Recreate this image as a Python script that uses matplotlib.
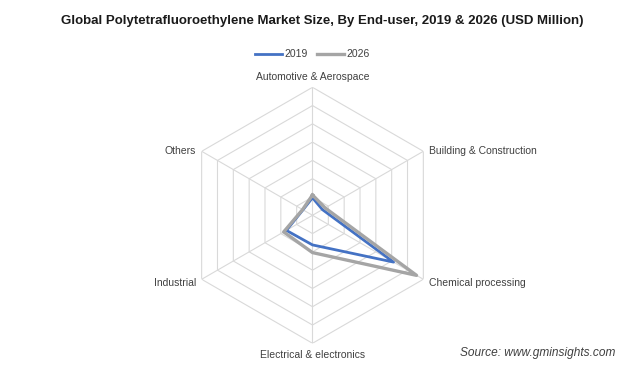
import numpy as np
import matplotlib
matplotlib.use("Agg")
import matplotlib.pyplot as plt

plt.rcParams['font.family'] = ['Liberation Sans', 'DejaVu Sans']

categories = ['Automotive & Aerospace', 'Building & Construction', 'Chemical processing',
              'Electrical & electronics', 'Industrial', 'Others']
values_2019 = [192, 125, 1024, 324, 330, 120]
values_2026 = [222, 160, 1314, 408, 364, 125]
ring_ticks = [200, 400, 600, 800, 1000, 1200, 1400]

blue = '#4472C4'
gray = '#A5A5A5'
grid_color = '#D9D9D9'

fig = plt.figure(figsize=(6.36, 3.82), dpi=100)
ax = fig.add_axes([0.4914 - 0.2013, 0.4364 - 0.3351, 0.4025, 0.6702], projection='polar')
ax.set_theta_offset(np.pi / 2)
ax.set_theta_direction(-1)

n = len(categories)
angles = np.arange(n) * 2 * np.pi / n
closed = np.append(angles, angles[0])

# hexagon grid
for r in ring_ticks:
    ax.plot(closed, [r] * (n + 1), color=grid_color, lw=0.8, zorder=1)
for a in angles:
    ax.plot([a, a], [0, ring_ticks[-1]], color=grid_color, lw=0.8, zorder=1)

ax.plot(closed, values_2019 + values_2019[:1], color=blue, lw=2.0, label='2019', zorder=3)
ax.plot(closed, values_2026 + values_2026[:1], color=gray, lw=2.4, label='2026', zorder=4)

ax.set_ylim(0, ring_ticks[-1])
ax.set_xticks([])
ax.set_yticks([])
ax.grid(False)
ax.spines['polar'].set_visible(False)
ax.set_facecolor('none')

# category labels: (offset in points, ha, va)
rl = ring_ticks[-1]
label_pos = [
    ((0, 4), 'center', 'bottom'),
    ((4, 0), 'left', 'center'),
    ((4, -3), 'left', 'center'),
    ((0, -5), 'center', 'top'),
    ((-4, -3), 'right', 'center'),
    ((-4, 0), 'right', 'center'),
]
for a, (off, ha, va), name in zip(angles, label_pos, categories):
    ax.annotate(name, xy=(a, rl), xytext=off, textcoords='offset points',
                ha=ha, va=va, fontsize=7.5, color='#404040')

fig.text(0.506, 0.945, 'Global Polytetrafluoroethylene Market Size, By End-user, 2019 & 2026 (USD Million)',
         ha='center', va='center', fontsize=9.5, fontweight='bold', color='#1a1a1a')

fig.legend(loc='center', bbox_to_anchor=(0.4914, 0.858), ncol=2, frameon=False,
           fontsize=7.5, handlelength=2.6, handletextpad=0.2, columnspacing=0.9,
           labelcolor='#404040')

fig.text(0.967, 0.075, 'Source: www.gminsights.com', ha='right', va='center',
         fontsize=8.6, style='italic', color='#404040')

fig.savefig('out.png', dpi=100, facecolor='white')
